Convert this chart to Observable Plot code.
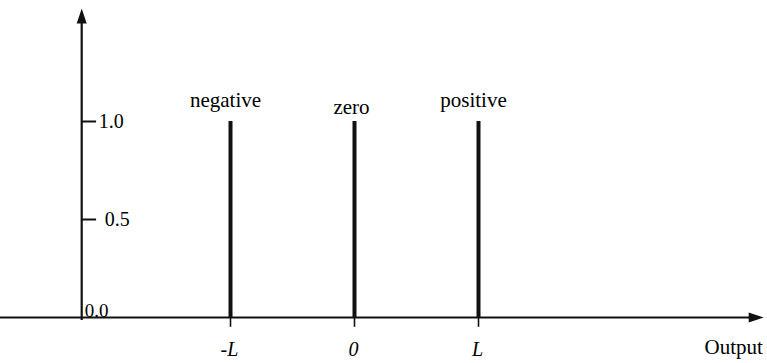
<!DOCTYPE html>
<html>
<head>
<meta charset="utf-8">
<script src="https://cdn.jsdelivr.net/npm/d3@7"></script>
<script src="https://cdn.jsdelivr.net/npm/@observablehq/plot@0.6"></script>
<style>
  html, body { margin: 0; padding: 0; background: #fff; }
  #chart svg { display: block; }
</style>
</head>
<body>
<div id="chart"></div>
<script>
// Singleton output membership functions
const categories = ["negative", "zero", "positive"];
const centers = [-1, 0, 1];
const membership = [1, 1, 1];
const centerLabels = ["-L", "0", "L"];
const yTicks = [0, 0.5, 1];
const yTickLabels = ["0.0", "0.5", "1.0"];
const axisTitle = "Output";

// Axis geometry in data units
const yAxisAt = -2.2;   // where the vertical axis crosses the output axis
const xStart = -2.86;   // left end of the output axis
const xTip = 3.3;       // arrow tip of the output axis
const yTip = 1.577;     // arrow tip of the membership axis

const singletons = categories.map((name, i) => ({
  name, center: centers[i], mu: membership[i], label: centerLabels[i]
}));
const ticks = yTicks.map((v, i) => ({ v, label: yTickLabels[i] }));

// Filled arrowhead with its tip at the origin, pointing up
const arrowHead = {
  draw(context, size) {
    const r = Math.sqrt(size / Math.PI);
    context.moveTo(0, 0);
    context.lineTo(r, 3 * r);
    context.lineTo(-r, 3 * r);
    context.closePath();
  }
};

const serif = "Liberation Serif, Times New Roman, serif";
const ink = "#111";
const txt = { fontFamily: serif, fill: "#000" };

const chart = Plot.plot({
  width: 767,
  height: 363,
  margin: 0,
  style: "background: #fff; font-family: 'Liberation Serif', serif;",
  x: { domain: [-1, 1], range: [230, 478], axis: null },
  y: { domain: [0, 1], range: [317, 121], axis: null },
  marks: [
    // axes
    Plot.ruleY([0], { x1: xStart, x2: xTip - 0.03, stroke: ink, strokeWidth: 2 }),
    Plot.ruleX([yAxisAt], { y1: -0.015, y2: yTip - 0.03, stroke: ink, strokeWidth: 2.2 }),
    Plot.dot([{ x: yAxisAt, y: yTip, a: 0 }, { x: xTip, y: 0, a: 90 }], {
      x: "x", y: "y", rotate: "a", symbol: arrowHead, r: 5, fill: ink, stroke: "none"
    }),
    // membership ticks
    Plot.ruleY(ticks.filter(d => d.v > 0), {
      y: "v", x1: yAxisAt, x2: yAxisAt + 0.12, stroke: ink, strokeWidth: 2
    }),
    Plot.text(ticks.filter(d => d.v === 1), {
      ...txt, x: yAxisAt, y: "v", text: "label", textAnchor: "start", lineAnchor: "middle",
      dx: 17, fontSize: 20
    }),
    Plot.text(ticks.filter(d => d.v === 0.5), {
      ...txt, x: yAxisAt, y: "v", text: "label", textAnchor: "start", lineAnchor: "middle",
      dx: 23, fontSize: 20
    }),
    Plot.text(ticks.filter(d => d.v === 0), {
      ...txt, x: yAxisAt, y: "v", text: "label", textAnchor: "start", lineAnchor: "bottom",
      dx: 3, dy: -1, fontSize: 19
    }),
    // small ticks under the output axis
    Plot.ruleX(singletons, { x: "center", y1: 0, y2: -0.05, stroke: ink, strokeWidth: 1.6 }),
    // singleton spikes
    Plot.ruleX(singletons, { x: "center", y1: 0, y2: "mu", stroke: ink, strokeWidth: 4 }),
    // set names
    Plot.text(singletons.filter(d => d.name !== "zero"), {
      ...txt, x: "center", y: "mu", text: "name", lineAnchor: "bottom", dx: -5, dy: -15,
      fontSize: 21
    }),
    Plot.text(singletons.filter(d => d.name === "zero"), {
      ...txt, x: "center", y: "mu", text: "name", lineAnchor: "bottom", dx: -3, dy: -8,
      fontSize: 21
    }),
    // center values
    Plot.text(singletons, {
      ...txt, x: "center", y: 0, text: "label", lineAnchor: "bottom", dx: -1, dy: 38,
      fontSize: 20, fontStyle: "italic"
    }),
    // axis title
    Plot.text([axisTitle], {
      ...txt, x: 3.294, y: 0, text: d => d, textAnchor: "end", lineAnchor: "bottom", dy: 36,
      fontSize: 21
    })
  ]
});

document.getElementById("chart").appendChild(chart);
</script>
</body>
</html>
